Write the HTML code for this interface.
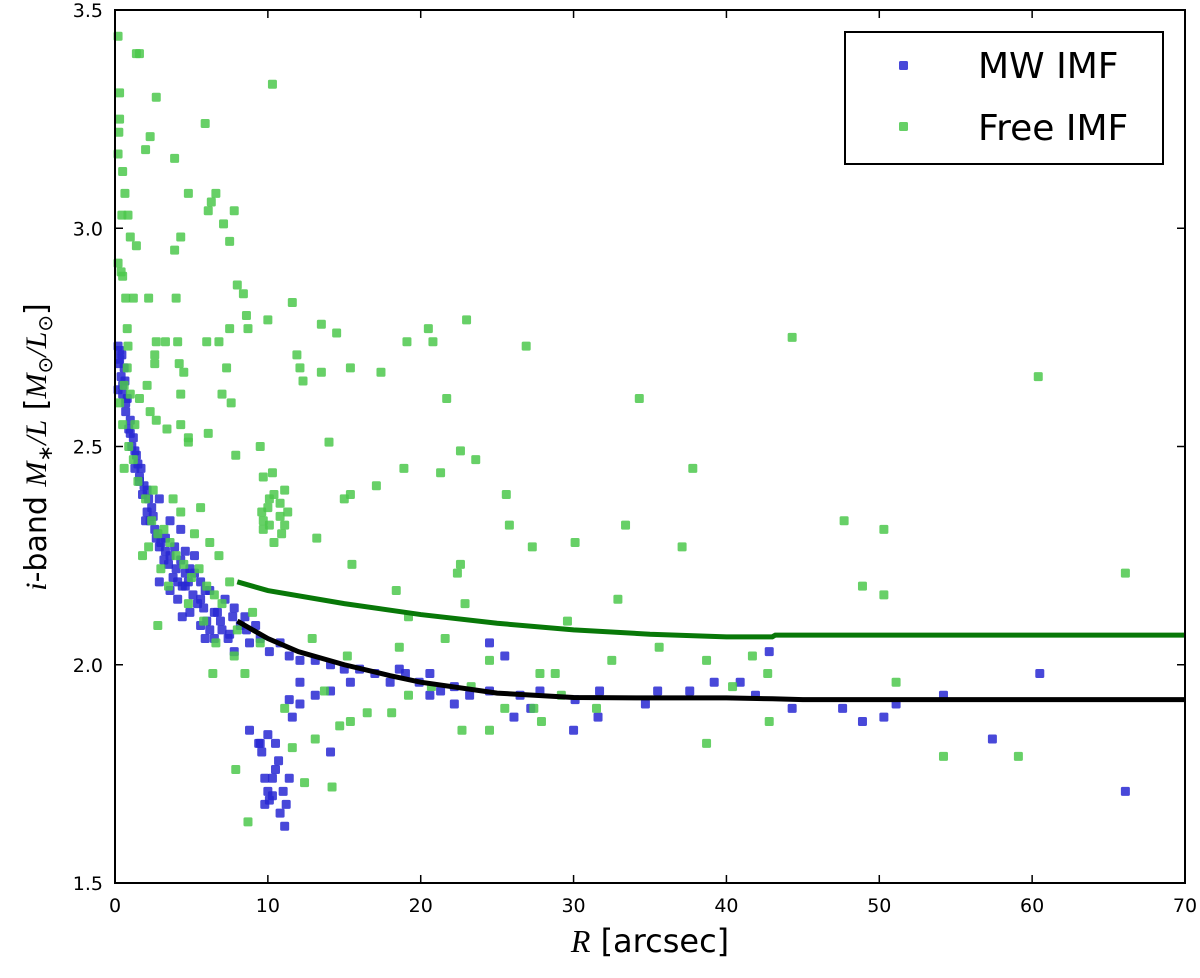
<!DOCTYPE html>
<html><head><meta charset="utf-8"><style>
body{margin:0;background:#fff;}
svg text{font-family:"DejaVu Sans","Liberation Sans",sans-serif;}
</style></head><body>
<svg id="chart" width="1200" height="973" xmlns="http://www.w3.org/2000/svg">
<g id="marks"></g>
<rect x="115" y="10" width="1070" height="873" fill="none" stroke="#000" stroke-width="2"/>
<g id="axes"></g>
<text x="650" y="952" font-size="32" text-anchor="middle"><tspan font-style="italic" font-family="Liberation Serif, serif">R</tspan> [arcsec]</text>
<text transform="translate(46,447) rotate(-90)" font-size="30" text-anchor="middle"><tspan font-style="italic" font-family="Liberation Serif, serif">i</tspan>-band <tspan font-style="italic" font-family="Liberation Serif, serif">M</tspan><tspan font-size="20" dy="6">∗</tspan><tspan dy="-6" font-style="italic" font-family="Liberation Serif, serif">/L</tspan> [<tspan font-style="italic" font-family="Liberation Serif, serif">M</tspan><tspan font-size="20" dy="6">⊙</tspan><tspan dy="-6" font-style="italic" font-family="Liberation Serif, serif">/L</tspan><tspan font-size="20" dy="6">⊙</tspan><tspan dy="-6">]</tspan></text>
<g>
<rect x="845" y="32" width="318" height="132" fill="#fff" stroke="#000" stroke-width="2"/>
<rect x="899" y="61" width="9" height="9" rx="1.5" fill="#2828d2" fill-opacity="0.85"/>
<text x="978" y="78" font-size="36">MW IMF</text>
<rect x="899" y="122" width="9" height="9" rx="1.5" fill="#4cc84c" fill-opacity="0.85"/>
<text x="978" y="140" font-size="36">Free IMF</text>
</g>
</svg>
<script>
const xTicks=[0,10,20,30,40,50,60,70];
const yTicks=[1.5,2.0,2.5,3.0,3.5];
const yTickLabels=["1.5","2.0","2.5","3.0","3.5"];
const mwX=[0.2,0.3,0.45,0.25,0.6,0.4,0.65,0.2,0.5,0.8,0.7,1.0,0.9,1.2,1.1,1.4,1.5,1.7,1.6,1.9,2.1,2.2,2.4,2.3,2.6,2.8,2.9,3.3,3.6,3.9,4.3,4.0,4.6,4.9,5.2,5.6,4.6,5.9,6.2,4.1,4.4,4.9,5.6,6.2,6.9,6.5,7.5,8.2,7.8,8.8,9.5,10.1,10.8,11.4,12.1,13.1,14.1,15.0,16.0,17.0,18.0,19.0,19.9,21.3,22.2,23.2,24.5,25.5,26.5,27.8,30.1,31.7,34.7,35.5,37.6,39.2,40.9,41.9,42.8,44.3,47.6,48.9,50.3,51.1,54.2,60.5,66.1,57.4,30.0,31.6,27.2,26.1,22.2,20.6,24.5,20.6,18.6,15.4,14.1,13.1,12.1,11.4,11.6,12.1,8.8,9.4,9.6,9.8,10.0,10.1,10.3,10.5,10.7,11.0,11.2,10.8,11.1,9.8,9.5,10.0,10.5,11.4,10.3,14.1,1.3,2.0,2.9,3.6,3.3,4.3,4.6,5.2,5.6,3.6,2.9,7.2,7.8,8.5,9.2,7.4,6.5,5.9,0.3,0.5,0.7,1.0,1.3,1.6,1.8,2.1,2.5,2.7,3.0,3.2,3.5,3.8,4.1,4.4,4.8,5.1,5.4,5.8,6.0,6.7,7.0,7.7,8.6];
const mwY=[2.73,2.72,2.71,2.69,2.68,2.66,2.65,2.63,2.62,2.61,2.58,2.56,2.54,2.52,2.50,2.48,2.46,2.45,2.43,2.41,2.40,2.38,2.36,2.33,2.31,2.30,2.27,2.26,2.25,2.27,2.24,2.22,2.21,2.22,2.21,2.19,2.18,2.17,2.17,2.15,2.11,2.12,2.09,2.08,2.10,2.06,2.07,2.09,2.03,2.05,2.06,2.03,2.05,2.02,2.01,2.01,2.00,1.99,1.99,1.98,1.96,1.98,1.96,1.94,1.95,1.93,1.94,2.02,1.93,1.94,1.92,1.94,1.91,1.94,1.94,1.96,1.96,1.93,2.03,1.90,1.90,1.87,1.88,1.91,1.93,1.98,1.71,1.83,1.85,1.88,1.90,1.88,1.91,1.93,2.05,1.98,1.99,1.96,1.94,1.93,1.96,1.92,1.88,1.91,1.85,1.82,1.80,1.74,1.71,1.69,1.74,1.76,1.78,1.71,1.68,1.66,1.63,1.68,1.82,1.84,1.82,1.74,1.70,1.80,2.45,2.33,2.38,2.33,2.29,2.31,2.26,2.25,2.15,2.17,2.19,2.15,2.13,2.11,2.09,2.06,2.12,2.06,2.70,2.64,2.60,2.53,2.49,2.42,2.39,2.35,2.34,2.29,2.28,2.24,2.23,2.20,2.19,2.18,2.19,2.16,2.14,2.13,2.10,2.12,2.08,2.11,2.08];
const freeX=[0.2,0.3,0.3,0.25,0.2,1.4,1.6,2.7,2.3,2.0,0.5,0.65,0.45,0.85,1.0,1.4,3.9,5.9,6.6,6.3,6.1,4.8,4.3,3.9,7.1,7.8,7.5,10.3,0.2,0.4,0.5,0.7,1.2,2.2,4.0,8.0,8.4,10.0,11.6,8.6,8.7,7.5,6.8,6.0,13.5,14.5,20.5,20.8,19.1,23.0,26.9,11.9,12.1,12.3,13.5,15.4,17.4,44.3,60.4,0.8,0.85,2.7,3.3,4.1,2.6,2.6,0.8,0.6,2.1,4.2,4.5,4.3,7.3,7.0,7.6,1.6,2.3,2.7,3.4,4.3,4.8,4.8,6.1,7.9,9.5,9.7,10.3,14.0,17.1,18.9,22.6,21.3,23.6,21.7,37.8,34.3,25.6,15.4,15.0,33.4,25.8,27.3,30.1,37.1,47.7,50.3,15.5,13.2,11.1,22.4,22.6,22.9,32.9,48.9,50.3,18.4,66.1,29.6,19.2,9.6,10.0,10.1,10.4,10.8,11.1,9.7,10.1,10.8,11.3,10.4,10.9,9.7,12.9,15.2,18.6,21.6,24.5,27.8,28.8,32.5,35.6,38.7,41.7,42.7,40.4,31.5,29.2,27.4,25.5,23.3,20.7,19.2,18.1,16.5,14.7,15.4,13.1,11.6,11.1,13.7,22.7,24.5,27.9,38.7,42.8,54.2,59.1,51.1,14.2,12.4,7.9,8.7,0.3,0.5,0.9,1.2,1.5,2.0,2.4,2.8,3.2,3.6,4.0,4.5,5.0,5.5,6.0,6.5,7.0,7.5,3.0,2.2,1.8,4.3,5.2,6.2,6.8,1.0,1.3,0.6,2.5,3.5,4.8,5.8,6.6,8.0,9.0,7.8,3.8,2.8,6.4,8.5,9.5,5.6];
const freeY=[3.44,3.31,3.25,3.22,3.17,3.40,3.40,3.30,3.21,3.18,3.13,3.08,3.03,3.03,2.98,2.96,3.16,3.24,3.08,3.06,3.04,3.08,2.98,2.95,3.01,3.04,2.97,3.33,2.92,2.90,2.89,2.84,2.84,2.84,2.84,2.87,2.85,2.79,2.83,2.80,2.77,2.77,2.74,2.74,2.78,2.76,2.77,2.74,2.74,2.79,2.73,2.71,2.68,2.65,2.67,2.68,2.67,2.75,2.66,2.77,2.73,2.74,2.74,2.74,2.71,2.69,2.68,2.64,2.64,2.69,2.67,2.62,2.68,2.62,2.60,2.61,2.58,2.56,2.54,2.55,2.52,2.51,2.53,2.48,2.50,2.43,2.44,2.51,2.41,2.45,2.49,2.44,2.47,2.61,2.45,2.61,2.39,2.39,2.38,2.32,2.32,2.27,2.28,2.27,2.33,2.31,2.23,2.29,2.32,2.21,2.23,2.14,2.15,2.18,2.16,2.17,2.21,2.10,2.11,2.35,2.36,2.38,2.39,2.37,2.40,2.33,2.32,2.34,2.35,2.28,2.30,2.31,2.06,2.02,2.04,2.06,2.01,1.98,1.98,2.01,2.04,2.01,2.02,1.98,1.95,1.90,1.93,1.90,1.90,1.95,1.95,1.93,1.89,1.89,1.86,1.87,1.83,1.81,1.90,1.94,1.85,1.85,1.87,1.82,1.87,1.79,1.79,1.96,1.72,1.73,1.76,1.64,2.60,2.55,2.50,2.47,2.42,2.38,2.33,2.30,2.31,2.28,2.25,2.23,2.20,2.22,2.18,2.16,2.14,2.19,2.22,2.27,2.25,2.35,2.30,2.28,2.25,2.62,2.55,2.45,2.40,2.18,2.14,2.10,2.05,2.08,2.12,2.02,2.38,2.09,1.98,1.98,2.05,2.36];
const freeFitX=[8,10,15,20,25,30,35,40,43,43.2,70];
const freeFitY=[2.19,2.17,2.14,2.115,2.095,2.08,2.07,2.064,2.064,2.068,2.068];
const mwFitX=[8,10,12,15,18,20,25,30,35,40,43,45,70];
const mwFitY=[2.10,2.06,2.03,2.00,1.975,1.96,1.935,1.925,1.924,1.924,1.922,1.92,1.92];

const NS="http://www.w3.org/2000/svg";
const X0=115,X1=1185,Y0=883,Y1=10;
function sx(v){return X0+(v-0)/(70-0)*(X1-X0);}
function sy(v){return Y0-(v-1.5)/(3.5-1.5)*(Y0-Y1);}
const marks=document.getElementById('marks');
const axes=document.getElementById('axes');
function pts(xs,ys,color,name){
  const g=document.createElementNS(NS,'g');
  
  
  for(let i=0;i<xs.length;i++){
    const r=document.createElementNS(NS,'rect');
    r.setAttribute('x',sx(xs[i])-4.5);r.setAttribute('y',sy(ys[i])-4.5);
    r.setAttribute('width',9);r.setAttribute('height',9);r.setAttribute('rx',1.5);
    r.setAttribute('fill',color);r.setAttribute('fill-opacity','0.85');
    
    
    g.appendChild(r);
  }
  marks.appendChild(g);
}
function line(xs,ys,color,name){
  const p=document.createElementNS(NS,'polyline');
  p.setAttribute('points',xs.map((x,i)=>sx(x)+','+sy(ys[i])).join(' '));
  p.setAttribute('fill','none');p.setAttribute('stroke',color);p.setAttribute('stroke-width',5);
  
  
  marks.appendChild(p);
}
pts(mwX,mwY,'#2828d2','mw-imf');
pts(freeX,freeY,'#4cc84c','free-imf');
line(freeFitX,freeFitY,'#087808','free-imf-fit-line');
line(mwFitX,mwFitY,'#000','mw-imf-fit-line');
xTicks.forEach(v=>{
  const x=sx(v);
  for(const [a,b] of [[Y0,Y0-8],[Y1,Y1+8]]){
    const l=document.createElementNS(NS,'line');
    l.setAttribute('x1',x);l.setAttribute('x2',x);l.setAttribute('y1',a);l.setAttribute('y2',b);
    l.setAttribute('stroke','#000');l.setAttribute('stroke-width',1.5);
    
    
    axes.appendChild(l);
  }
  const t=document.createElementNS(NS,'text');
  t.setAttribute('x',x);t.setAttribute('y',912);t.setAttribute('font-size',19);t.setAttribute('text-anchor','middle');
  t.textContent=String(v);
  
  
  axes.appendChild(t);
});
yTicks.forEach((v,i)=>{
  const y=sy(v);
  for(const [a,b] of [[X0,X0+8],[X1,X1-8]]){
    const l=document.createElementNS(NS,'line');
    l.setAttribute('x1',a);l.setAttribute('x2',b);l.setAttribute('y1',y);l.setAttribute('y2',y);
    l.setAttribute('stroke','#000');l.setAttribute('stroke-width',1.5);
    
    
    axes.appendChild(l);
  }
  const t=document.createElementNS(NS,'text');
  t.setAttribute('x',103);t.setAttribute('y',y+7);t.setAttribute('font-size',19);t.setAttribute('text-anchor','end');
  t.textContent=yTickLabels[i];
  
  
  axes.appendChild(t);
});
</script>
</body></html>
